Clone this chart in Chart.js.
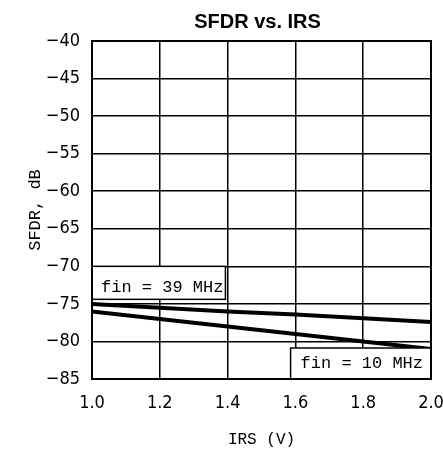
<!DOCTYPE html>
<html>
<head>
<meta charset="utf-8">
<script src="https://cdn.jsdelivr.net/npm/chart.js@4.4.1/dist/chart.umd.min.js"></script>
<style>
  html, body { margin: 0; padding: 0; background: #fff; }
  #wrap { width: 443px; height: 449px; }
</style>
</head>
<body>
<div id="wrap"><canvas id="sfdr-chart" width="443" height="449"></canvas></div>
<script>
// data
const irs = [1.0, 1.2, 1.4, 1.6, 1.8, 2.0];
const sfdr39 = [-75, -75.5, -76, -76.4, -76.9, -77.4];
const sfdr10 = [-76, -77, -78, -79, -80, -81];
const seriesNames = ['fin = 39 MHz', 'fin = 10 MHz'];
const yMin = -85, yMax = -40, yStep = 5;
const xMin = 1.0, xMax = 2.0, xStep = 0.2;

const tickFont = { family: "'Liberation Sans Narrow', 'DejaVu Sans Condensed', sans-serif", size: 18 };
const monoFont = "'Liberation Mono', 'DejaVu Sans Mono', monospace";

function toPoints(xs, ys) {
	return xs.map(function (x, i) { return { x: x, y: ys[i] }; });
}

// curve labels, anchored to a corner of the plot in data units
const curveLabels = [
	{ text: seriesNames[0], x: xMin, y: -70, anchor: 'top-left', pad: { l: 9, r: 2, t: 21, b: 12 } },
	{ text: seriesNames[1], x: xMax, y: yMin, anchor: 'bottom-right', pad: { l: 10, r: 8, t: 15, b: 16 } }
];

const labelPlugin = {
	id: 'curveLabels',
	afterDatasetsDraw(chart) {
		const ctx = chart.ctx;
		const xs = chart.scales.x, ys = chart.scales.y;
		ctx.save();
		ctx.font = '17px ' + monoFont;
		ctx.textBaseline = 'middle';
		curveLabels.forEach(function (lb) {
			const w = ctx.measureText(lb.text).width + lb.pad.l + lb.pad.r;
			const h = lb.pad.t + lb.pad.b;
			let px = xs.getPixelForValue(lb.x), py = ys.getPixelForValue(lb.y);
			if (lb.anchor === 'bottom-right') { px -= w; py -= h; }
			ctx.fillStyle = '#fff';
			ctx.fillRect(px, py, w, h);
			ctx.strokeStyle = '#000';
			ctx.lineWidth = 1.5;
			ctx.strokeRect(px, py, w, h);
			ctx.fillStyle = '#000';
			ctx.fillText(lb.text, px + lb.pad.l, py + lb.pad.t);
		});
		// plot frame
		const a = chart.chartArea;
		ctx.lineWidth = 2;
		ctx.strokeRect(a.left, a.top, a.right - a.left, a.bottom - a.top);
		// title
		ctx.font = 'bold 20px "Liberation Sans", Arial, sans-serif';
		ctx.textAlign = 'center';
		ctx.fillText('SFDR vs. IRS', (a.left + a.right) / 2 - 4, 22);
		ctx.restore();
	}
};

const chartBox = document.getElementById('sfdr-chart');
const sfdrChart = new Chart(chartBox, {
	type: 'line',
	data: {
		datasets: [{
			label: seriesNames[0],
			data: toPoints(irs, sfdr39),
			borderColor: '#000',
			borderWidth: 4,
			pointRadius: 0,
			tension: 0
		}, {
			label: seriesNames[1],
			data: toPoints(irs, sfdr10),
			borderColor: '#000',
			borderWidth: 4,
			pointRadius: 0,
			tension: 0
		}]
	},
	options: {
		responsive: false,
		animation: false,
		devicePixelRatio: 1,
		layout: { padding: { top: 41, right: 12, left: 0, bottom: 0 } },
		plugins: {
			legend: { display: false },
			title: { display: false },
			tooltip: { enabled: false }
		},
		scales: {
			x: {
				type: 'linear',
				min: xMin,
				max: xMax,
				afterFit: function (scale) {
					scale.height = 70;
					scale.paddingLeft = 0;
					scale.paddingRight = 0;
				},
				ticks: {
					stepSize: xStep,
					color: '#000',
					font: tickFont,
					padding: 14,
					maxRotation: 0,
					callback: function (v) { return v.toFixed(1); }
				},
				grid: { color: '#000', lineWidth: 1.5, drawTicks: false },
				border: { color: '#000', width: 2 },
				title: {
					display: true,
					text: 'IRS (V)',
					color: '#000',
					font: { family: monoFont, size: 16 },
					padding: { top: 0, bottom: 0 }
				}
			},
			y: {
				min: yMin,
				max: yMax,
				afterFit: function (scale) { scale.width = 92; },
				ticks: {
					stepSize: yStep,
					color: '#000',
					font: tickFont,
					padding: 12,
					callback: function (v) { return v < 0 ? '\u2212' + Math.abs(v) : String(v); }
				},
				grid: { color: '#000', lineWidth: 1.5, drawTicks: false },
				border: { color: '#000', width: 2 },
				title: {
					display: true,
					text: 'SFDR, dB',
					color: '#000',
					font: { family: monoFont, size: 17 },
					padding: { top: 25, bottom: 0 }
				}
			}
		}
	},
	plugins: [labelPlugin]
});
</script>
</body>
</html>
